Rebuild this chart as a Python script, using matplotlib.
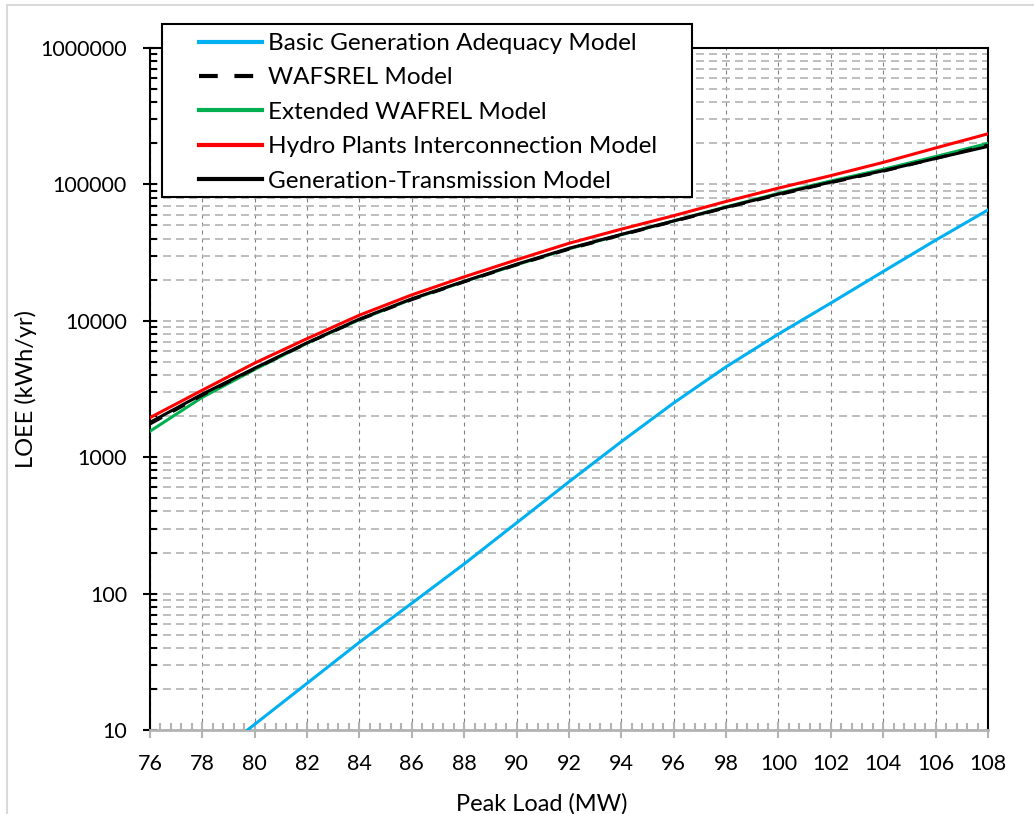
import matplotlib
matplotlib.use('Agg')
import numpy as np
from matplotlib import pyplot as plt
from matplotlib.patches import Rectangle
from matplotlib.ticker import LogLocator, MultipleLocator, NullFormatter, FuncFormatter

plt.rcParams['font.family'] = ['Lato', 'DejaVu Sans']

peak_load = [76, 78, 80, 82, 84, 86, 88, 90, 92, 94, 96, 98, 100, 102, 104, 106, 108]

basic_x = [78, 80, 82, 84, 86, 88, 90, 92, 94, 96, 98, 100, 102, 104, 106, 108]
basic = [5.5, 11, 22, 44, 85, 165, 330, 660, 1300, 2500, 4600, 8000, 13500, 23000, 39000, 65000]
wafsrel = [1750, 2850, 4450, 6850, 10200, 14300, 19300, 25700, 33500, 42500, 53500, 67500,
           84000, 103000, 125000, 155000, 194000]
extended = [1550, 2750, 4400, 6850, 10200, 14400, 19400, 25800, 33700, 42800, 54000, 68500,
            86000, 106000, 129000, 160000, 200000]
hydro = [1950, 3100, 4900, 7400, 11000, 15500, 21000, 28000, 37000, 47000, 59000, 75000,
         94000, 116000, 145000, 185000, 235000]
gen_trans = [1800, 2900, 4500, 6900, 10300, 14500, 19500, 26000, 34000, 43000, 54000, 68000,
             85000, 104000, 126000, 155000, 190000]

labels = ['Basic Generation Adequacy Model', 'WAFSREL Model', 'Extended WAFREL Model',
          'Hydro Plants Interconnection Model', 'Generation-Transmission Model']


def main():
    fig = plt.figure(figsize=(10.34, 8.14), dpi=100)
    ax = fig.add_axes([0.145, 0.1032, 0.8105, 0.8378])

    # light chart-area border
    fig.patches.append(Rectangle((0.007, -0.01), 1.2, 1.004, transform=fig.transFigure,
                                 fill=False, edgecolor='#d9d9d9', lw=1.5))

    lw = 2.2
    ax.plot(basic_x, basic, color='#00b0f0', lw=lw, zorder=3)
    ax.plot(peak_load, extended, color='#00b050', lw=lw, zorder=3)
    ax.plot(peak_load, wafsrel, color='black', lw=lw, ls=(0, (4.5, 4)), zorder=4)
    ax.plot(peak_load, hydro, color='#ff0000', lw=lw, zorder=3)
    ax.plot(peak_load, gen_trans, color='black', lw=lw, zorder=3)

    ax.set_yscale('log')
    ax.set_xlim(76, 108)
    ax.set_ylim(10, 1000000)
    ax.xaxis.set_major_locator(MultipleLocator(2))
    ax.xaxis.set_minor_locator(MultipleLocator(0.4))
    ax.yaxis.set_major_locator(LogLocator(base=10))
    ax.yaxis.set_minor_locator(LogLocator(base=10, subs=np.arange(2, 10)))
    ax.yaxis.set_minor_formatter(NullFormatter())
    ax.yaxis.set_major_formatter(FuncFormatter(lambda v, p: '%d' % v))

    ax.grid(True, which='major', axis='x', color='#808080', ls=(0, (3.6, 3.6)), lw=0.8)
    ax.grid(True, which='both', axis='y', color='#b3b3b3', ls=(0, (4.8, 3)), lw=1.2)
    ax.set_axisbelow(True)

    for s in ['left', 'right', 'top']:
        ax.spines[s].set_color('black')
        ax.spines[s].set_linewidth(1.5)
    ax.spines['bottom'].set_color('#b3b3b3')
    ax.spines['bottom'].set_linewidth(2)

    ax.tick_params(axis='y', which='major', direction='inout', length=10, width=1.5,
                   labelsize=15.5, pad=11.5)
    ax.tick_params(axis='y', which='minor', direction='in', length=5, width=1.5)
    ax.tick_params(axis='x', which='major', direction='inout', length=11, width=1.5,
                   color='#b3b3b3', labelsize=15.5, pad=12)
    ax.tick_params(axis='x', which='minor', direction='in', length=5, width=1.5,
                   color='#b3b3b3')

    ax.set_xlabel('Peak Load (MW)', fontsize=17, labelpad=6)
    ax.xaxis.set_label_coords(0.467, -0.092)
    ax.set_ylabel('LOEE (kWh/yr)', fontsize=17)
    ax.yaxis.set_label_coords(-0.135, 0.5)

    # legend frame drawn separately (extends above the plot area)
    fig.patches.append(Rectangle((162 / 1034, 1 - 197 / 814), 530 / 1034, 173 / 814,
                                 transform=fig.transFigure, facecolor='white',
                                 edgecolor='black', lw=1.5, zorder=5))
    h = [plt.Line2D([], [], color='#00b0f0', lw=3),
         plt.Line2D([], [], color='black', lw=3, ls=(0, (4.5, 4))),
         plt.Line2D([], [], color='#00b050', lw=3),
         plt.Line2D([], [], color='#ff0000', lw=3),
         plt.Line2D([], [], color='black', lw=3)]
    leg = fig.legend(h, labels, loc='upper left', bbox_to_anchor=(199 / 1034, 1 - 33 / 814),
                     fontsize=17.5, frameon=False, borderpad=0, borderaxespad=0,
                     handlelength=2.6, handletextpad=0.25, labelspacing=0.55)
    leg.set_zorder(6)

    fig.savefig('out.png', dpi=100)


if __name__ == '__main__':
    main()
